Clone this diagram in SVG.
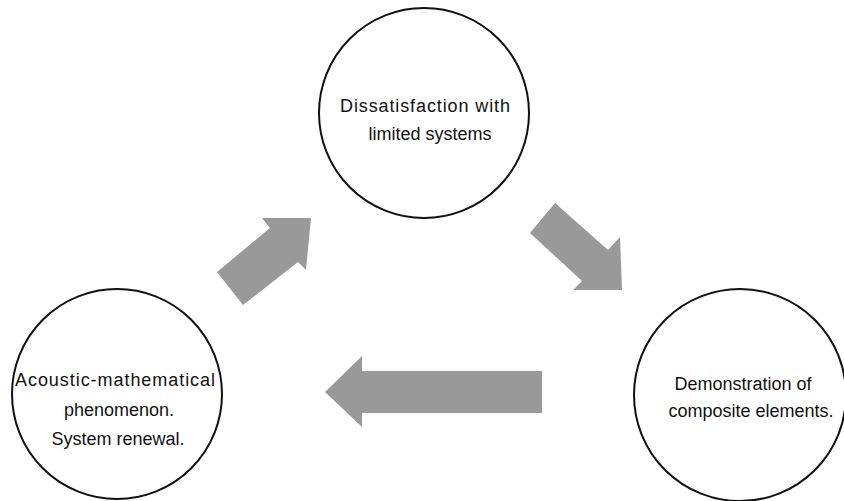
<svg xmlns="http://www.w3.org/2000/svg" width="844" height="501" viewBox="0 0 844 501">
<style>
.node circle{fill:#fff;stroke:#111;stroke-width:2}
.node text{font-family:"Liberation Sans",Arial,sans-serif;font-size:18px;fill:#111;text-anchor:middle}
.arrow{fill:#999;stroke:none}
</style>
<rect width="844" height="501" fill="#fff"/>
<g id="connectors">
<polygon class="arrow" points="262,218 311,218 306,270 298,262 243,305 217,272 270,228"/>
<polygon class="arrow" points="555,203 608,250 620,237 622,290 573,290 582,281 530,233"/>
<polygon class="arrow" points="325,392 362,356 362,371 542,371 542,413 362,413 362,427"/>
</g>
<g id="node-top" class="node">
<circle cx="424" cy="113" r="105"/>
<text x="425" y="112" textLength="170" lengthAdjust="spacing">Dissatisfaction with</text>
<text x="430" y="140">limited systems</text>
</g>
<g id="node-left" class="node">
<circle cx="117" cy="394" r="105"/>
<text x="115" y="386" textLength="200" lengthAdjust="spacing">Acoustic-mathematical</text>
<text x="119" y="416">phenomenon.</text>
<text x="118" y="445">System renewal.</text>
</g>
<g id="node-right" class="node">
<circle cx="740" cy="395" r="106"/>
<text x="743" y="390">Demonstration of</text>
<text x="751" y="417">composite elements.</text>
</g>
</svg>
